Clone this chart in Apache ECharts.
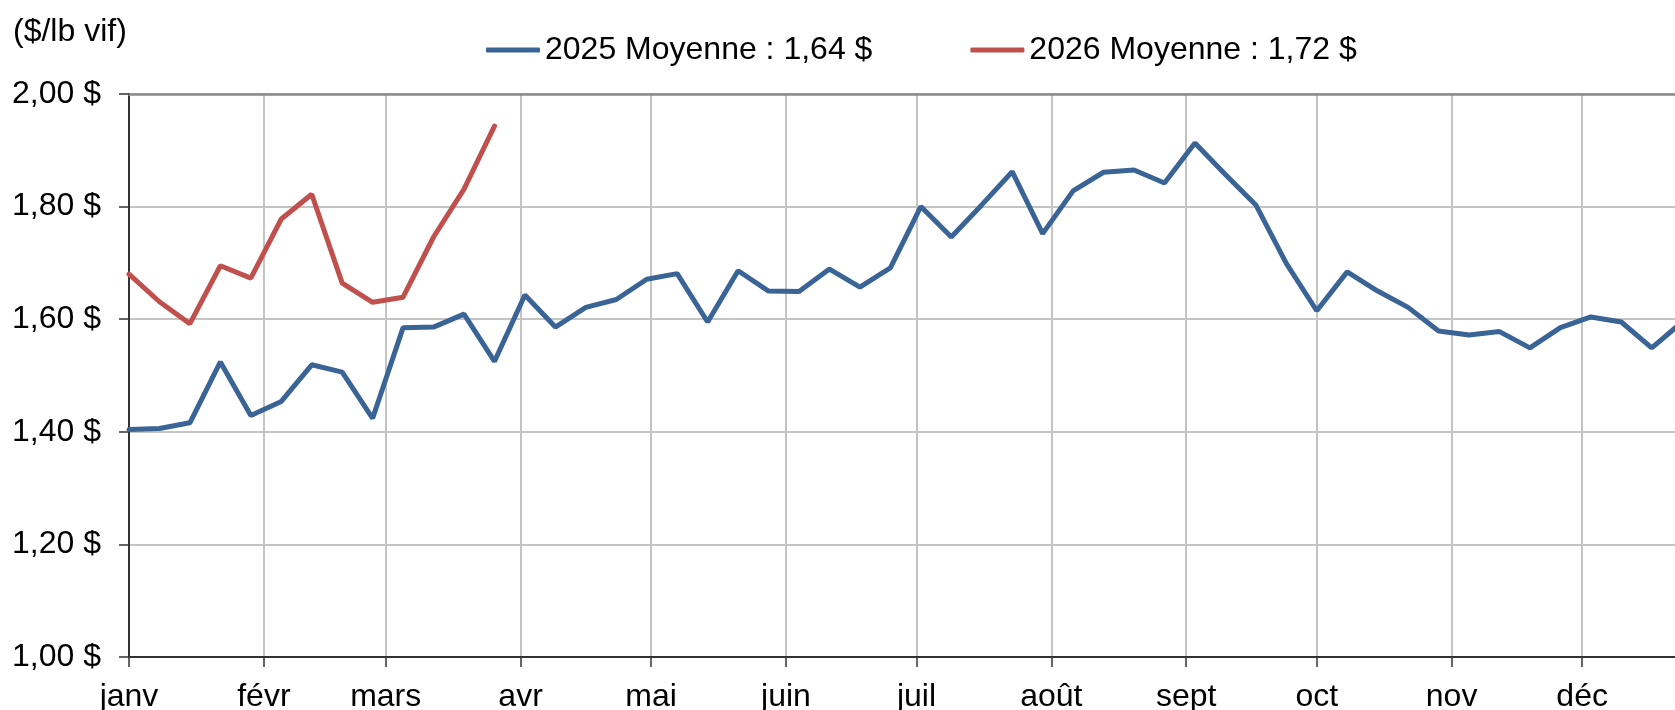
<!DOCTYPE html>
<html>
<head>
<meta charset="utf-8">
<title>Prix hebdomadaire</title>
<script src="https://cdn.jsdelivr.net/npm/echarts@6/dist/echarts.min.js"></script>
<style>
  html, body { margin: 0; padding: 0; background: #fff; }
  #chart { width: 1675px; height: 710px; }
</style>
</head>
<body>
<div id="chart"></div>
<script>
// un point par semaine, 2026 place sur le meme calendrier que 2025
const DAY = 24 * 3600 * 1000;
const yearStart = Date.UTC(2025, 0, 1);
const yearEnd = Date.UTC(2026, 0, 1);

const monthLabels = ['janv', 'févr', 'mars', 'avr', 'mai', 'juin', 'juil', 'août', 'sept', 'oct', 'nov', 'déc'];

const prix2025 = [
    1.404, 1.406, 1.416, 1.524, 1.429, 1.454, 1.519, 1.506, 1.424, 1.585,
    1.586, 1.609, 1.525, 1.643, 1.586, 1.621, 1.635, 1.671, 1.681, 1.595,
    1.686, 1.650, 1.649, 1.689, 1.657, 1.691, 1.800, 1.746, 1.803, 1.862,
    1.752, 1.828, 1.861, 1.865, 1.842, 1.913, 1.857, 1.803, 1.699, 1.615,
    1.684, 1.650, 1.621, 1.579, 1.572, 1.578, 1.549, 1.585, 1.604, 1.595,
    1.549, 1.595
];
const prix2026 = [
    1.680, 1.631, 1.592, 1.695, 1.673, 1.778, 1.822, 1.664, 1.630, 1.639,
    1.746, 1.831, 1.943
];

const nom2025 = '2025 Moyenne : 1,64 $';
const nom2026 = '2026 Moyenne : 1,72 $';
const uniteY = '($/lb vif)';

const font = 'Liberation Sans, Arial, sans-serif';
const fontSize = 32;

function toWeekly(values) {
    return values.map((v, i) => [yearStart + i * 7 * DAY, v]);
}

const chart = echarts.init(document.getElementById('chart'));

const option = {
    animation: false,
    useUTC: true,
    backgroundColor: '#fff',
    title: {
        text: uniteY,
        left: 8,
        top: 11,
        textStyle: { fontFamily: font, fontSize: fontSize, fontWeight: 'normal', color: '#000' }
    },
    legend: {
        top: 29,
        left: 481,
        icon: 'roundRect',
        itemWidth: 54,
        itemHeight: 5,
        itemGap: 98,
        textStyle: { fontFamily: font, fontSize: fontSize, color: '#000' },
        data: [nom2025, nom2026]
    },
    grid: {
        left: 129,
        top: 94,
        width: 1588,
        height: 563,
        outerBoundsMode: 'none'
    },
    xAxis: [
        {
            type: 'time',
            min: yearStart,
            max: yearEnd,
            splitNumber: 12,
            minInterval: 28 * DAY,
            maxInterval: 31 * DAY,
            axisLine: { lineStyle: { color: '#333', width: 2 } },
            axisTick: { show: true, length: 10, lineStyle: { color: '#333', width: 1.5 } },
            axisLabel: {
                formatter: v => monthLabels[new Date(v).getUTCMonth()],
                fontFamily: font,
                fontSize: fontSize,
                color: '#000',
                margin: 24,
                hideOverlap: false,
                showMaxLabel: false
            },
            splitLine: { show: true, lineStyle: { color: '#c4c4c4', width: 2 } }
        },
        {
            // bordure du haut
            type: 'time',
            position: 'top',
            min: yearStart,
            max: yearEnd,
            axisLine: { lineStyle: { color: '#8a8a8a', width: 2.5 } },
            axisTick: { show: false },
            axisLabel: { show: false },
            splitLine: { show: false }
        }
    ],
    yAxis: {
        type: 'value',
        min: 1,
        max: 2,
        interval: 0.2,
        axisLine: { show: true, lineStyle: { color: '#333', width: 2 } },
        axisTick: { show: true, length: 10, lineStyle: { color: '#333', width: 1.5 } },
        axisLabel: {
            formatter: v => v.toFixed(2).replace('.', ',') + ' $',
            fontFamily: font,
            fontSize: fontSize,
            color: '#000',
            margin: 28
        },
        splitLine: { lineStyle: { color: '#c4c4c4', width: 2 } }
    },
    series: [
        {
            name: nom2025,
            type: 'line',
            data: toWeekly(prix2025),
            symbol: 'none',
            itemStyle: { color: '#3a6495' },
            lineStyle: { color: '#3a6495', width: 5, cap: 'round' }
        },
        {
            name: nom2026,
            type: 'line',
            data: toWeekly(prix2026),
            symbol: 'none',
            itemStyle: { color: '#c0504d' },
            lineStyle: { color: '#c0504d', width: 5, cap: 'round' }
        }
    ]
};

chart.setOption(option);
</script>
</body>
</html>
